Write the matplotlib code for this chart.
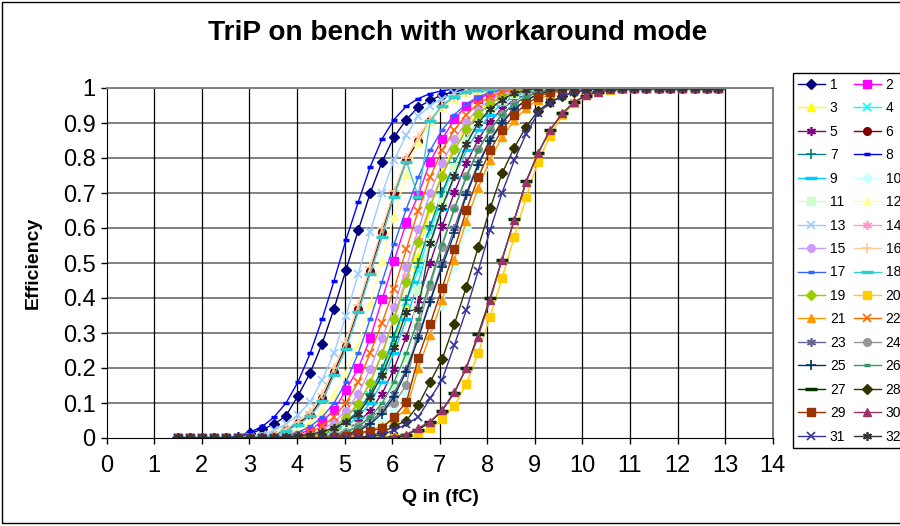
import matplotlib
matplotlib.use('Agg')
import matplotlib.pyplot as plt
from matplotlib.patches import Rectangle

plt.rcParams['font.family'] = ['Liberation Sans', 'DejaVu Sans']

# Injected charge for each scan step (fC)
Q = [1.50, 1.75, 2.00, 2.26, 2.51, 2.76, 3.01, 3.27, 3.52, 3.77, 4.02, 4.28, 4.53, 4.78, 5.03, 5.29,
     5.54, 5.79, 6.04, 6.30, 6.55, 6.80, 7.05, 7.31, 7.56, 7.81, 8.06, 8.31, 8.57, 8.82, 9.07, 9.32,
     9.58, 9.83, 10.08, 10.33, 10.59, 10.84, 11.09, 11.34, 11.60, 11.85, 12.10, 12.36, 12.61, 12.86]

# Hit efficiency per channel, one list per channel (1..32)
s01 = [0, 0, 0, 0, 0, 0.002, 0.013, 0.025, 0.039, 0.064, 0.12, 0.187, 0.27, 0.37, 0.48, 0.594, 0.70, 0.79, 0.86, 0.91, 0.945, 0.965, 0.98, 0.99, 0.996, 1, 1, 1, 1, 1, 1, 1, 1, 1, 1, 1, 1, 1, 1, 1, 1, 1, 1, 1, 1, 1]
s02 = [0, 0, 0, 0, 0, 0, 0, 0, 0, 0.003, 0.01, 0.024, 0.047, 0.08, 0.137, 0.2, 0.285, 0.396, 0.506, 0.616, 0.694, 0.79, 0.853, 0.911, 0.95, 0.97, 0.984, 0.993, 0.998, 1, 1, 1, 1, 1, 1, 1, 1, 1, 1, 1, 1, 1, 1, 1, 1, 1]
s03 = [0, 0, 0, 0, 0, 0, 0, 0, 0, 0, 0, 0.002, 0.008, 0.02, 0.04, 0.07, 0.115, 0.185, 0.275, 0.38, 0.52, 0.656, 0.76, 0.837, 0.895, 0.935, 0.96, 0.978, 0.99, 0.995, 0.998, 1, 1, 1, 1, 1, 1, 1, 1, 1, 1, 1, 1, 1, 1, 1]
s04 = [0, 0, 0, 0, 0, 0, 0, 0, 0, 0, 0, 0.003, 0.01, 0.022, 0.042, 0.075, 0.122, 0.19, 0.28, 0.39, 0.48, 0.59, 0.69, 0.78, 0.85, 0.9, 0.94, 0.965, 0.982, 0.992, 0.997, 1, 1, 1, 1, 1, 1, 1, 1, 1, 1, 1, 1, 1, 1, 1]
s05 = [0, 0, 0, 0, 0, 0, 0, 0, 0, 0, 0, 0, 0.003, 0.01, 0.024, 0.045, 0.078, 0.127, 0.198, 0.29, 0.393, 0.5, 0.605, 0.702, 0.785, 0.853, 0.904, 0.941, 0.966, 0.982, 0.992, 0.997, 1, 1, 1, 1, 1, 1, 1, 1, 1, 1, 1, 1, 1, 1]
s06 = [0, 0, 0, 0, 0, 0, 0, 0.003, 0.01, 0.022, 0.042, 0.066, 0.113, 0.19, 0.264, 0.37, 0.478, 0.59, 0.70, 0.794, 0.85, 0.906, 0.95, 0.975, 0.99, 0.995, 0.998, 1, 1, 1, 1, 1, 1, 1, 1, 1, 1, 1, 1, 1, 1, 1, 1, 1, 1, 1]
s07 = [0, 0, 0, 0, 0, 0, 0, 0, 0, 0, 0, 0.003, 0.01, 0.024, 0.045, 0.078, 0.127, 0.198, 0.29, 0.393, 0.5, 0.605, 0.702, 0.785, 0.853, 0.904, 0.941, 0.966, 0.982, 0.992, 0.997, 1, 1, 1, 1, 1, 1, 1, 1, 1, 1, 1, 1, 1, 1, 1]
s08 = [0, 0, 0, 0, 0.001, 0.006, 0.016, 0.033, 0.06, 0.1, 0.16, 0.243, 0.34, 0.45, 0.566, 0.675, 0.775, 0.855, 0.91, 0.948, 0.97, 0.984, 0.992, 0.997, 0.999, 1, 1, 1, 1, 1, 1, 1, 1, 1, 1, 1, 1, 1, 1, 1, 1, 1, 1, 1, 1, 1]
s09 = [0, 0, 0, 0, 0, 0, 0, 0, 0, 0, 0, 0.001, 0.006, 0.016, 0.033, 0.06, 0.1, 0.16, 0.243, 0.34, 0.447, 0.553, 0.655, 0.745, 0.822, 0.88, 0.924, 0.955, 0.975, 0.988, 0.995, 0.999, 1, 1, 1, 1, 1, 1, 1, 1, 1, 1, 1, 1, 1, 1]
s10 = [0, 0, 0, 0, 0, 0, 0, 0, 0, 0, 0, 0, 0, 0, 0.003, 0.01, 0.024, 0.045, 0.078, 0.127, 0.198, 0.29, 0.38, 0.49, 0.6, 0.702, 0.785, 0.853, 0.904, 0.941, 0.966, 0.982, 0.992, 0.997, 1, 1, 1, 1, 1, 1, 1, 1, 1, 1, 1, 1]
s11 = [0, 0, 0, 0, 0, 0, 0, 0, 0, 0, 0, 0.002, 0.007, 0.015, 0.025, 0.035, 0.051, 0.091, 0.149, 0.228, 0.423, 0.56, 0.675, 0.775, 0.85, 0.905, 0.942, 0.966, 0.982, 0.992, 0.997, 0.999, 1, 1, 1, 1, 1, 1, 1, 1, 1, 1, 1, 1, 1, 1]
s12 = [0, 0, 0, 0, 0, 0, 0, 0, 0.003, 0.01, 0.024, 0.045, 0.078, 0.125, 0.185, 0.27, 0.385, 0.507, 0.635, 0.755, 0.845, 0.905, 0.945, 0.97, 0.985, 0.993, 0.997, 0.999, 1, 1, 1, 1, 1, 1, 1, 1, 1, 1, 1, 1, 1, 1, 1, 1, 1, 1]
s13 = [0, 0, 0, 0, 0, 0, 0.003, 0.01, 0.022, 0.04, 0.066, 0.104, 0.166, 0.244, 0.35, 0.47, 0.59, 0.70, 0.794, 0.866, 0.92, 0.95, 0.97, 0.985, 0.993, 0.997, 1, 1, 1, 1, 1, 1, 1, 1, 1, 1, 1, 1, 1, 1, 1, 1, 1, 1, 1, 1]
s14 = [0, 0, 0, 0, 0, 0, 0, 0, 0, 0, 0.001, 0.006, 0.016, 0.033, 0.06, 0.1, 0.16, 0.243, 0.345, 0.46, 0.565, 0.665, 0.75, 0.822, 0.88, 0.924, 0.955, 0.975, 0.988, 0.995, 0.999, 1, 1, 1, 1, 1, 1, 1, 1, 1, 1, 1, 1, 1, 1, 1]
s15 = [0, 0, 0, 0, 0, 0, 0, 0, 0, 0, 0.003, 0.01, 0.024, 0.045, 0.078, 0.127, 0.198, 0.285, 0.375, 0.49, 0.596, 0.7, 0.785, 0.853, 0.904, 0.941, 0.966, 0.982, 0.992, 0.997, 1, 1, 1, 1, 1, 1, 1, 1, 1, 1, 1, 1, 1, 1, 1, 1]
s16 = [0, 0, 0, 0, 0, 0, 0, 0.004, 0.012, 0.026, 0.047, 0.075, 0.125, 0.2, 0.275, 0.38, 0.49, 0.6, 0.705, 0.8, 0.86, 0.91, 0.95, 0.975, 0.99, 0.995, 0.998, 1, 1, 1, 1, 1, 1, 1, 1, 1, 1, 1, 1, 1, 1, 1, 1, 1, 1, 1]
s17 = [0, 0, 0, 0, 0, 0, 0, 0, 0.001, 0.006, 0.016, 0.033, 0.06, 0.1, 0.16, 0.243, 0.34, 0.447, 0.553, 0.655, 0.745, 0.822, 0.88, 0.924, 0.955, 0.975, 0.988, 0.995, 0.999, 1, 1, 1, 1, 1, 1, 1, 1, 1, 1, 1, 1, 1, 1, 1, 1, 1]
s18 = [0, 0, 0, 0, 0, 0, 0, 0.002, 0.008, 0.02, 0.038, 0.062, 0.105, 0.18, 0.255, 0.36, 0.47, 0.575, 0.69, 0.79, 0.69, 0.905, 0.95, 0.975, 0.99, 0.995, 0.998, 1, 1, 1, 1, 1, 1, 1, 1, 1, 1, 1, 1, 1, 1, 1, 1, 1, 1, 1]
s19 = [0, 0, 0, 0, 0, 0, 0, 0, 0, 0, 0.001, 0.005, 0.014, 0.03, 0.057, 0.097, 0.158, 0.24, 0.34, 0.447, 0.56, 0.66, 0.75, 0.825, 0.882, 0.925, 0.955, 0.975, 0.988, 0.995, 0.999, 1, 1, 1, 1, 1, 1, 1, 1, 1, 1, 1, 1, 1, 1, 1]
s20 = [0, 0, 0, 0, 0, 0, 0, 0, 0, 0, 0, 0, 0, 0, 0, 0, 0, 0, 0.001, 0.002, 0.007, 0.028, 0.053, 0.092, 0.154, 0.242, 0.347, 0.456, 0.575, 0.69, 0.79, 0.863, 0.923, 0.956, 0.98, 0.99, 0.995, 0.998, 0.999, 1, 1, 1, 1, 1, 1, 1]
s21 = [0, 0, 0, 0, 0, 0, 0, 0, 0, 0, 0, 0, 0, 0, 0.003, 0.01, 0.02, 0.035, 0.055, 0.082, 0.2, 0.294, 0.394, 0.51, 0.62, 0.715, 0.795, 0.86, 0.908, 0.943, 0.967, 0.982, 0.992, 0.997, 1, 1, 1, 1, 1, 1, 1, 1, 1, 1, 1, 1]
s22 = [0, 0, 0, 0, 0, 0, 0, 0, 0, 0.001, 0.006, 0.016, 0.033, 0.06, 0.1, 0.16, 0.243, 0.33, 0.425, 0.54, 0.65, 0.745, 0.822, 0.88, 0.924, 0.955, 0.975, 0.988, 0.995, 0.999, 1, 1, 1, 1, 1, 1, 1, 1, 1, 1, 1, 1, 1, 1, 1, 1]
s23 = [0, 0, 0, 0, 0, 0, 0, 0, 0, 0, 0, 0, 0, 0.003, 0.01, 0.024, 0.045, 0.078, 0.127, 0.198, 0.29, 0.393, 0.5, 0.6, 0.7, 0.785, 0.853, 0.904, 0.941, 0.966, 0.982, 0.992, 0.997, 1, 1, 1, 1, 1, 1, 1, 1, 1, 1, 1, 1, 1]
s24 = [0, 0, 0, 0, 0, 0, 0, 0, 0, 0, 0, 0, 0.002, 0.008, 0.018, 0.035, 0.058, 0.08, 0.1, 0.151, 0.32, 0.435, 0.547, 0.656, 0.75, 0.825, 0.882, 0.925, 0.955, 0.975, 0.988, 0.995, 0.999, 1, 1, 1, 1, 1, 1, 1, 1, 1, 1, 1, 1, 1]
s25 = [0, 0, 0, 0, 0, 0, 0, 0, 0, 0, 0, 0, 0, 0.002, 0.008, 0.02, 0.04, 0.07, 0.118, 0.19, 0.285, 0.39, 0.49, 0.585, 0.694, 0.78, 0.85, 0.9, 0.94, 0.965, 0.982, 0.992, 0.997, 1, 1, 1, 1, 1, 1, 1, 1, 1, 1, 1, 1, 1]
s26 = [0, 0, 0, 0, 0, 0, 0, 0, 0, 0, 0, 0, 0.001, 0.006, 0.016, 0.033, 0.06, 0.1, 0.16, 0.243, 0.34, 0.447, 0.553, 0.655, 0.745, 0.822, 0.88, 0.924, 0.955, 0.975, 0.988, 0.995, 0.999, 1, 1, 1, 1, 1, 1, 1, 1, 1, 1, 1, 1, 1]
s27 = [0, 0, 0, 0, 0, 0, 0, 0, 0, 0, 0, 0, 0, 0, 0, 0, 0, 0, 0.003, 0.01, 0.024, 0.045, 0.078, 0.13, 0.2, 0.297, 0.4, 0.51, 0.625, 0.735, 0.815, 0.88, 0.928, 0.96, 0.978, 0.99, 0.996, 0.999, 1, 1, 1, 1, 1, 1, 1, 1]
s28 = [0, 0, 0, 0, 0, 0, 0, 0, 0, 0, 0, 0, 0, 0, 0, 0.001, 0.006, 0.016, 0.033, 0.05, 0.094, 0.16, 0.225, 0.326, 0.432, 0.545, 0.656, 0.756, 0.83, 0.89, 0.935, 0.96, 0.977, 0.988, 0.995, 0.999, 1, 1, 1, 1, 1, 1, 1, 1, 1, 1]
s29 = [0, 0, 0, 0, 0, 0, 0, 0, 0, 0, 0, 0, 0, 0.002, 0.006, 0.015, 0.02, 0.028, 0.061, 0.102, 0.23, 0.326, 0.428, 0.539, 0.651, 0.745, 0.822, 0.88, 0.924, 0.955, 0.975, 0.988, 0.995, 0.999, 1, 1, 1, 1, 1, 1, 1, 1, 1, 1, 1, 1]
s30 = [0, 0, 0, 0, 0, 0, 0, 0, 0, 0, 0, 0, 0, 0, 0, 0, 0, 0, 0.003, 0.01, 0.029, 0.047, 0.08, 0.132, 0.2, 0.29, 0.394, 0.509, 0.623, 0.732, 0.813, 0.88, 0.928, 0.96, 0.98, 0.99, 0.996, 0.999, 1, 1, 1, 1, 1, 1, 1, 1]
s31 = [0, 0, 0, 0, 0, 0, 0, 0, 0, 0, 0, 0, 0, 0, 0, 0, 0.003, 0.01, 0.022, 0.04, 0.06, 0.113, 0.166, 0.266, 0.366, 0.478, 0.594, 0.70, 0.794, 0.87, 0.928, 0.958, 0.977, 0.988, 0.995, 0.998, 1, 1, 1, 1, 1, 1, 1, 1, 1, 1]
s32 = [0, 0, 0, 0, 0, 0, 0, 0, 0.001, 0.003, 0.006, 0.01, 0.018, 0.029, 0.047, 0.07, 0.118, 0.18, 0.26, 0.36, 0.37, 0.557, 0.66, 0.75, 0.84, 0.9, 0.94, 0.967, 0.985, 0.993, 1, 1, 1, 1, 1, 1, 1, 1, 1, 1, 1, 1, 1, 1, 1, 1]

channels = [s01, s02, s03, s04, s05, s06, s07, s08, s09, s10, s11, s12, s13, s14, s15, s16,
            s17, s18, s19, s20, s21, s22, s23, s24, s25, s26, s27, s28, s29, s30, s31, s32]
for ch in channels:
    assert len(ch) == len(Q)

# classic spreadsheet palette, one colour per channel
colors = ['#000080', '#FF00FF', '#FFFF00', '#00FFFF', '#800080', '#800000', '#008080', '#0000FF',
          '#00CCFF', '#CCFFFF', '#CCFFCC', '#FFFF99', '#99CCFF', '#FF99CC', '#CC99FF', '#FFCC99',
          '#3366FF', '#33CCCC', '#99CC00', '#FFCC00', '#FF9900', '#FF6600', '#666699', '#969696',
          '#003366', '#339966', '#003300', '#333300', '#993300', '#993366', '#333399', '#333333']

# marker cycle: diamond, square, triangle, x, star, circle, plus, short dash, long dash
marker_cycle = [
    dict(marker='D', markersize=5),
    dict(marker='s', markersize=5.5),
    dict(marker='^', markersize=5.5),
    dict(marker='x', markersize=5.5, markeredgewidth=1.2),
    dict(marker=(6, 2, 0), markersize=6.5, markeredgewidth=1.2),
    dict(marker='o', markersize=5.5),
    dict(marker='+', markersize=6.5, markeredgewidth=1.2),
    dict(marker='_', markersize=5, markeredgewidth=2.5),
    dict(marker='_', markersize=8, markeredgewidth=2.5),
]

fig = plt.figure(figsize=(9, 5.26), dpi=100)
ax = fig.add_axes([106.7 / 900, 1 - 438 / 526, 666 / 900, 350 / 526])

handles = []
for n, ch in enumerate(channels):
    style = marker_cycle[n % 9]
    line, = ax.plot(Q, ch, color=colors[n], linewidth=1.0, markerfacecolor=colors[n],
                    markeredgecolor=colors[n], label=str(n + 1), **style)
    handles.append(line)

ax.set_xlim(0, 14)
ax.set_ylim(0, 1)
ax.set_xticks(range(0, 15))
ax.set_yticks([i / 10 for i in range(11)])
ax.set_yticklabels(['0', '0.1', '0.2', '0.3', '0.4', '0.5', '0.6', '0.7', '0.8', '0.9', '1'])

# grid: grey horizontals, black verticals
for y in [i / 10 for i in range(1, 11)]:
    ax.axhline(y, color='#808080', linewidth=1.4, zorder=0)
for x in range(1, 15):
    ax.axvline(x, color='black', linewidth=0.9, zorder=0)

for side in ['top', 'right']:
    ax.spines[side].set_color('#808080')
    ax.spines[side].set_linewidth(1.4)
ax.spines['left'].set_color('black')
ax.spines['bottom'].set_color('black')
ax.tick_params(axis='both', direction='out', length=4, width=1, labelsize=17)
ax.tick_params(axis='x', pad=8)
ax.tick_params(axis='y', pad=4)

fig.text(458 / 900, 1 - 40 / 526, 'TriP on bench with workaround mode', ha='center',
         va='baseline', fontsize=20.2, fontweight='bold')
fig.text(33 / 900, 1 - 263 / 526, 'Efficiency', rotation=90, ha='center', va='center',
         fontsize=14, fontweight='bold')
fig.text(440 / 900, 1 - 497 / 526, 'Q in (fC)', ha='center', va='center',
         fontsize=14, fontweight='bold')

# legend reads row-wise: odd channels left column, even channels right column
order = list(range(0, 32, 2)) + list(range(1, 32, 2))
leg = fig.legend([handles[i] for i in order], [str(i + 1) for i in order], ncol=2,
                 loc='upper left', bbox_to_anchor=(793 / 900, 1 - 73 / 526),
                 bbox_transform=fig.transFigure, fontsize=10, frameon=True, fancybox=False,
                 framealpha=1, edgecolor='black', borderpad=0.35, labelspacing=0.68,
                 handlelength=1.95, handletextpad=0.35, columnspacing=0.6, borderaxespad=0)
leg.get_frame().set_linewidth(1.0)

# chart area border
fig.patches.append(Rectangle((1.5 / 900, 1 - 522.5 / 526), 1.1, 521 / 526, transform=fig.transFigure,
                             fill=False, edgecolor='black', linewidth=1.0, clip_on=False))

fig.savefig('out.png', dpi=100)
